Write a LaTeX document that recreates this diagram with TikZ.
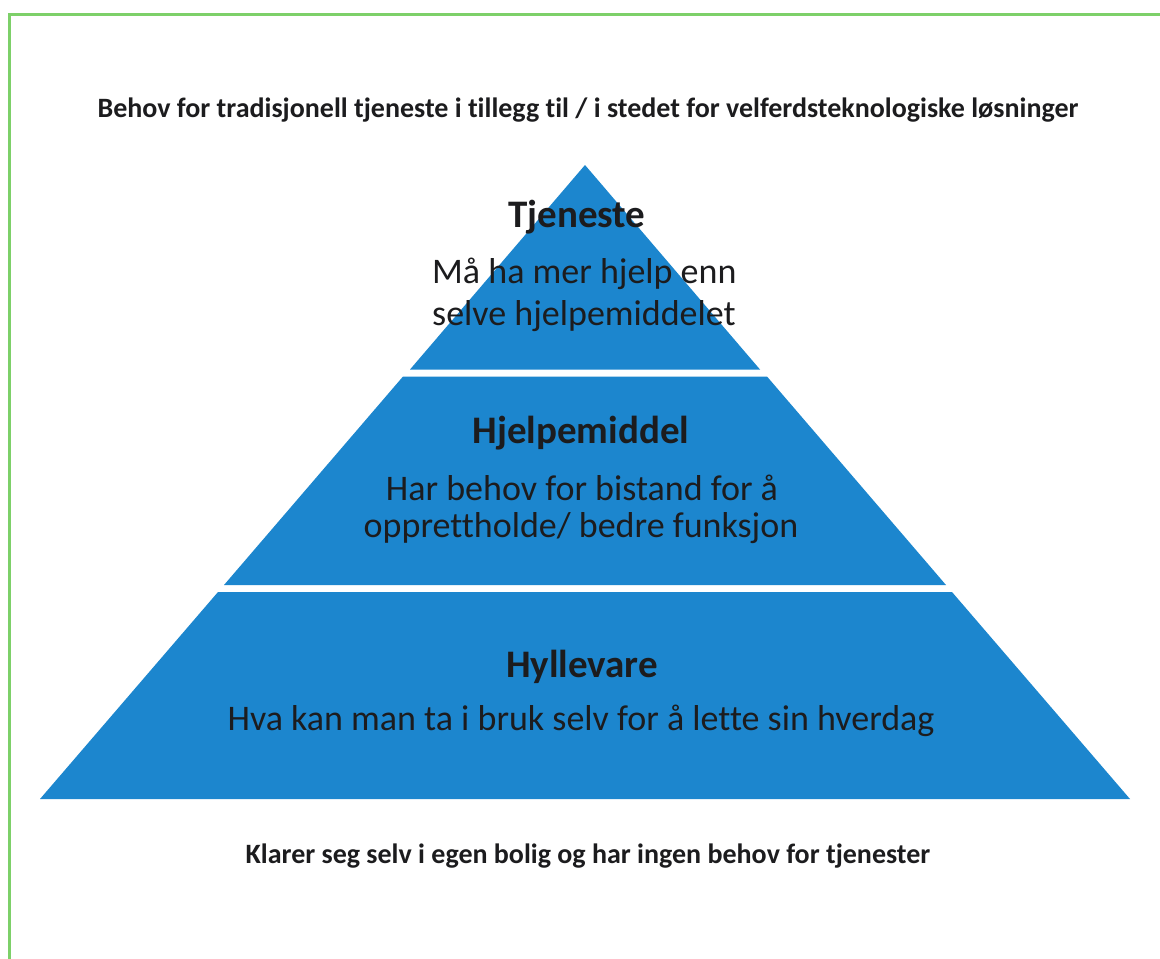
\documentclass[tikz,border=0pt]{standalone}
\usepackage{fontspec}
\setmainfont[Ligatures=NoCommon]{Carlito}
\definecolor{pyrblue}{RGB}{28,134,206}
\definecolor{frame}{RGB}{125,208,105}
\definecolor{ink}{RGB}{28,28,30}
\begin{document}
\begin{tikzpicture}[x=1pt,y=-1pt,
  layer/.style={fill=pyrblue,draw=none},
  title/.style={font=\fontsize{28}{32}\selectfont\bfseries,text=ink,inner sep=0pt,anchor=base},
  head/.style={font=\fontsize{39}{44}\selectfont\bfseries,text=ink,inner sep=0pt,anchor=base},
  body/.style={font=\fontsize{36}{40}\selectfont,text=ink,inner sep=0pt,anchor=base}]
\useasboundingbox (0,0) rectangle (1160,959);
\fill[white] (0,0) rectangle (1160,959);
% frame
\draw[frame,line width=3pt] (9,970) -- (9,14) -- (1170,14);
% pyramid layers
\coordinate (apex) at (585,165);
\fill[layer] (apex) -- (760,369.5) -- (410,369.5) -- cycle;
\fill[layer] (403,376.5) -- (767,376.5) -- (946,585) -- (224,585) -- cycle;
\fill[layer] (218,592) -- (952,592) -- (1130,799) -- (40,799) -- cycle;
% texts
\node[title] (top) at (588,117) {Behov for tradisjonell tjeneste i tillegg til / i stedet for velferdsteknologiske løsninger};
\node[head] (h1) at (577,227) {Tjeneste};
\node[body,anchor=base west] (b1a) at (432,283) {Må ha mer hjelp enn};
\node[body,anchor=base west] (b1b) at (432,325) {selve hjelpemiddelet};
\node[head] (h2) at (581,443) {Hjelpemiddel};
\node[body] (b2a) at (582,500) {Har behov for bistand for å};
\node[body] (b2b) at (581,537) {opprettholde/ bedre funksjon};
\node[head] (h3) at (582,677) {Hyllevare};
\node[body] (b3) at (581,730) {Hva kan man ta i bruk selv for å lette sin hverdag};
\node[title] (bottom) at (588,863) {Klarer seg selv i egen bolig og har ingen behov for tjenester};
\end{tikzpicture}
\end{document}
